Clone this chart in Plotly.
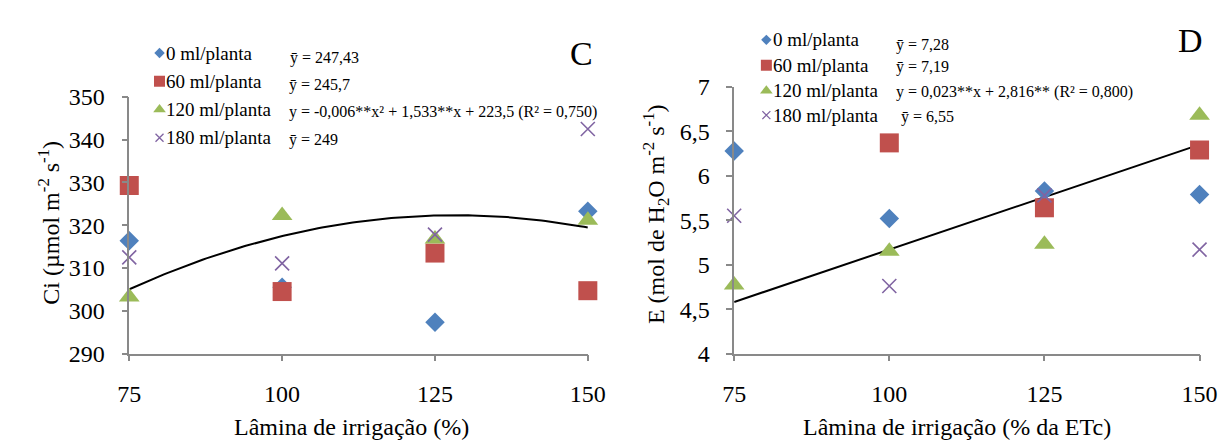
import numpy as np
import plotly.graph_objects as go

# ---------------- data ----------------
lamina = [75, 100, 125, 150]
series_names = ["0 ml/planta", "60 ml/planta", "120 ml/planta", "180 ml/planta"]

ci_0 = [316.4, 305.5, 297.3, 323.3]
ci_60 = [329.3, 304.5, 313.5, 304.7]
ci_120 = [303.2, 322.3, 316.8, 321.2]
ci_180 = [312.5, 311.1, 317.8, 342.5]

e_0 = [6.28, 5.52, 5.83, 5.79]
e_60 = [None, 6.37, 5.64, 6.29]
e_120 = [4.77, 5.15, 5.23, 6.68]
e_180 = [5.55, 4.76, 5.78, 5.17]

ci_eq_labels = ["ȳ = 247,43", "ȳ = 245,7",
                "y = -0,006**x² + 1,533**x + 223,5 (R² = 0,750)", "ȳ = 249"]
e_eq_labels = ["ȳ = 7,28", "ȳ = 7,19",
               "y = 0,023**x + 2,816** (R² = 0,800)", "ȳ = 6,55"]

# trend lines as drawn in the picture
ci_trend_coef = [-0.00611, 1.5674, 221.83]   # quadratic through the drawn curve
e_trend_x = [75, 150]
e_trend_y = [4.58, 6.35]

x_ticks = [75, 100, 125, 150]
ci_ticks = [290, 300, 310, 320, 330, 340, 350]
e_ticks = [4, 4.5, 5, 5.5, 6, 6.5, 7]
e_tick_text = ["4", "4,5", "5", "5,5", "6", "6,5", "7"]

# ---------------- style ----------------
W, H = 1232, 443
FONT = "Liberation Serif, Times New Roman, DejaVu Serif, serif"
colors = ["#4F81BD", "#C0504D", "#9BBB59", "#8064A2"]
symbols = ["diamond", "square", "triangle-up", "x-thin"]
sizes = [15, 19, 18, 14]
legend_sizes = [8, 11, 11, 8]
AX = "#898989"

fig = go.Figure()

def add_series(xa, ya, ys_list):
    for i, ys in enumerate(ys_list):
        fig.add_trace(go.Scatter(
            x=lamina, y=ys, mode="markers", xaxis=xa, yaxis=ya,
            showlegend=False, cliponaxis=False, hoverinfo="skip",
            marker=dict(symbol=symbols[i], size=sizes[i], color=colors[i],
                        line=dict(color=colors[i], width=1.6 if i == 3 else 0))))

# trend curves
xs = np.linspace(75, 150, 120)
a, b, c = ci_trend_coef
fig.add_trace(go.Scatter(x=xs, y=a * xs**2 + b * xs + c, mode="lines",
                         xaxis="x", yaxis="y", showlegend=False, hoverinfo="skip",
                         line=dict(color="black", width=2)))
add_series("x", "y", [ci_0, ci_60, ci_120, ci_180])

fig.add_trace(go.Scatter(x=e_trend_x, y=e_trend_y, mode="lines",
                         xaxis="x2", yaxis="y2", showlegend=False, hoverinfo="skip",
                         line=dict(color="black", width=2)))
add_series("x2", "y2", [e_0, e_60, e_120, e_180])

# ---------------- legends (pixel overlay) ----------------
def legend(mx, tx, ex, rows_m, rows_e, eq_labels):
    for i in range(4):
        fig.add_trace(go.Scatter(
            x=[mx], y=[rows_m[i]], mode="markers", xaxis="x3", yaxis="y3",
            showlegend=False, hoverinfo="skip", cliponaxis=False,
            marker=dict(symbol=symbols[i], size=legend_sizes[i], color=colors[i],
                        line=dict(color=colors[i], width=1.3 if i == 3 else 0))))
        fig.add_annotation(x=tx, y=rows_m[i], xref="x3", yref="y3", text=series_names[i],
                           showarrow=False, xanchor="left", yanchor="middle",
                           font=dict(family=FONT, size=19, color="black"))
        fig.add_annotation(x=ex[i], y=rows_e[i], xref="x3", yref="y3", text=eq_labels[i],
                           showarrow=False, xanchor="left", yanchor="middle",
                           font=dict(family=FONT, size=16, color="black"))

legend(143, 148, [275, 274, 274, 274], [34, 64, 94, 124], [39, 68, 97, 126], ci_eq_labels)
legend(765, 770, [896, 896, 896, 901], [20, 47, 74, 100], [26, 49, 75, 102], e_eq_labels)

# panel letters
fig.add_annotation(x=575, y=34, xref="x3", yref="y3", text="C", showarrow=False,
                   font=dict(family=FONT, size=34, color="black"))
fig.add_annotation(x=1200, y=21, xref="x3", yref="y3", text="D", showarrow=False,
                   font=dict(family=FONT, size=34, color="black"))

# axis titles
fig.add_annotation(x=30, y=214, xref="x3", yref="y3", textangle=-90,
                   text="Ci (µmol m<sup>-2</sup> s<sup>-1</sup>)", showarrow=False,
                   font=dict(family=FONT, size=24, color="black"))
fig.add_annotation(x=652, y=205, xref="x3", yref="y3", textangle=-90,
                   text="E (mol de H<sub>2</sub>O m<sup>-2</sup> s<sup>-1</sup>)", showarrow=False,
                   font=dict(family=FONT, size=24, color="black"))
fig.add_annotation(x=340, y=431, xref="x3", yref="y3",
                   text="Lâmina de irrigação (%)", showarrow=False,
                   font=dict(family=FONT, size=24, color="black"))
fig.add_annotation(x=960, y=431, xref="x3", yref="y3",
                   text="Lâmina de irrigação (% da ETc)", showarrow=False,
                   font=dict(family=FONT, size=24, color="black"))

def ypix(p):
    return (H - p) / H

common_x = dict(showgrid=False, zeroline=False, showline=True, linecolor=AX, linewidth=1.5,
                ticks="outside", ticklen=6, tickcolor=AX, tickwidth=1.5,
                tickvals=x_ticks, tickfont=dict(family=FONT, size=24, color="black"),
                range=[75, 150], ticklabelstandoff=12, fixedrange=True)
common_y = dict(showgrid=False, zeroline=False, showline=True, linecolor=AX, linewidth=1.5,
                ticks="outside", ticklen=6, tickcolor=AX, tickwidth=1.5,
                tickfont=dict(family=FONT, size=24, color="black"),
                ticklabelstandoff=12, fixedrange=True)

fig.update_layout(
    width=W, height=H, margin=dict(l=0, r=0, t=0, b=0),
    paper_bgcolor="white", plot_bgcolor="rgba(0,0,0,0)",
    xaxis=dict(common_x, domain=[112 / W, 582 / W], anchor="y"),
    yaxis=dict(common_y, domain=[ypix(353.3), ypix(80.7)], anchor="x",
               range=[290, 350], tickvals=ci_ticks),
    xaxis2=dict(common_x, domain=[732 / W, 1209 / W], anchor="y2"),
    yaxis2=dict(common_y, domain=[ypix(353.3), ypix(70)], anchor="x2",
                range=[4, 7], tickvals=e_ticks, ticktext=e_tick_text),
    xaxis3=dict(domain=[0, 1], range=[0, W], visible=False, anchor="y3", fixedrange=True),
    yaxis3=dict(domain=[0, 1], range=[H, 0], visible=False, anchor="x3", fixedrange=True),
    showlegend=False,
)

fig.write_html("out.html")
